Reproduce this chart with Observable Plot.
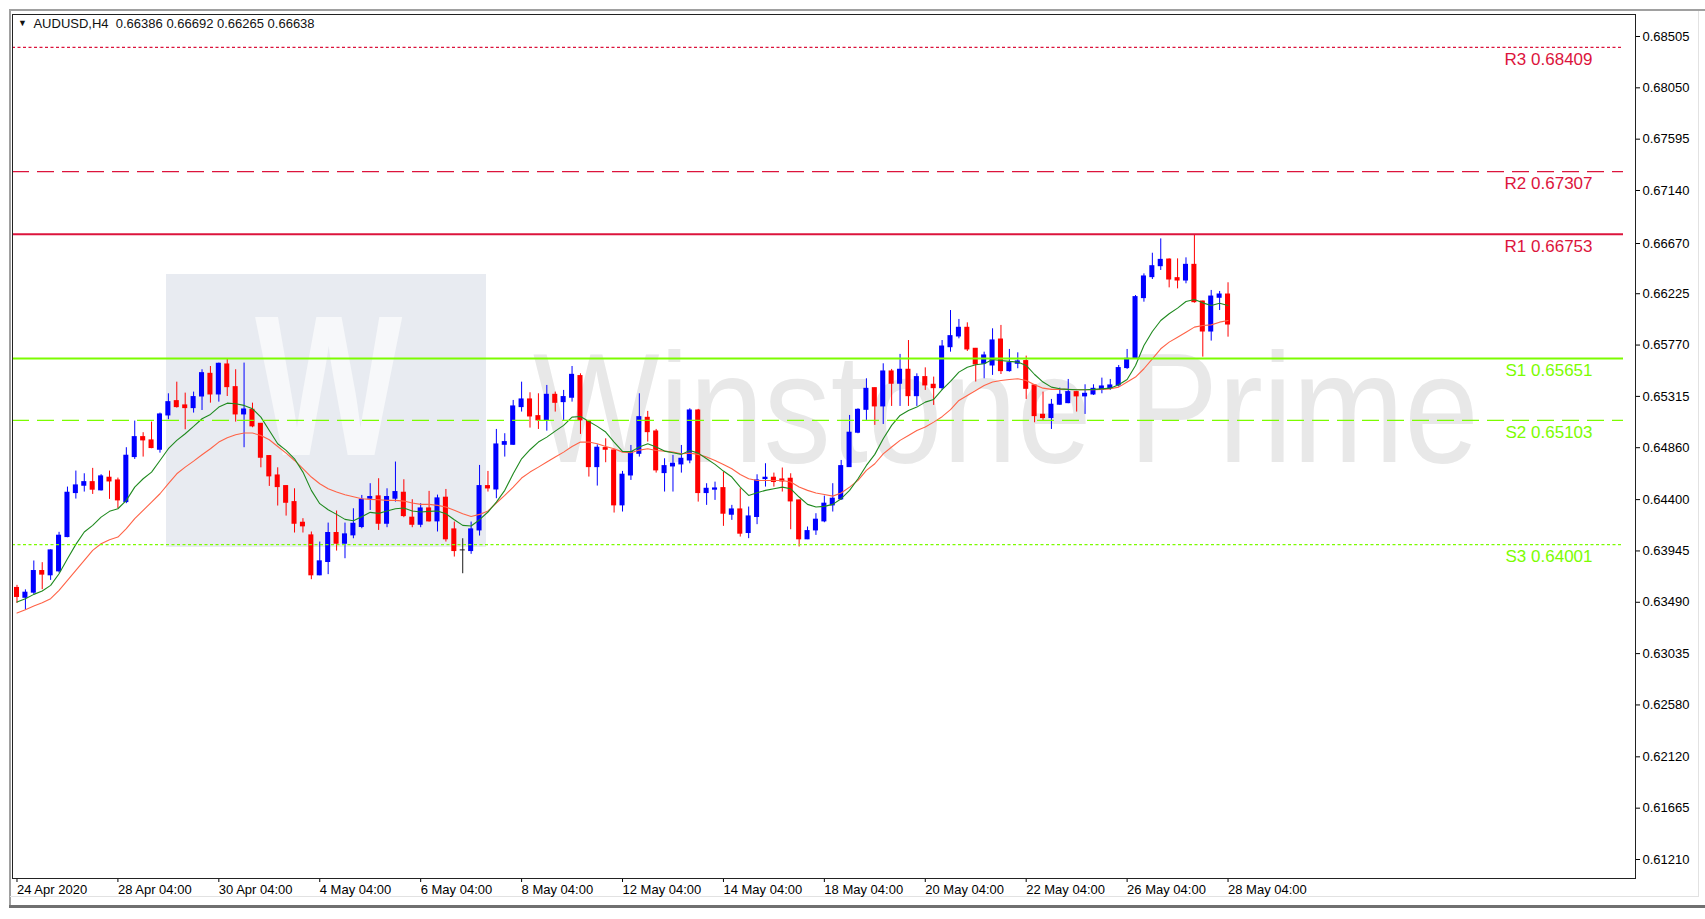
<!DOCTYPE html>
<html><head><meta charset="utf-8">
<script src="https://cdn.jsdelivr.net/npm/d3@7"></script>
<script src="https://cdn.jsdelivr.net/npm/@observablehq/plot@0.6"></script>
<style>
html,body{margin:0;padding:0;background:#fff;}
#wrap{position:relative;width:1705px;height:919px;overflow:hidden;font-family:"Liberation Sans",Arial,sans-serif;}
#wrap svg{position:absolute;left:0;top:0;}
.abs{position:absolute;}
</style></head><body>
<div id="wrap">
  <div class="abs" style="left:10px;top:9px;width:1695px;height:2px;background:#a0a0a0"></div>
  <div class="abs" style="left:9px;top:9px;width:2px;height:898px;background:#a0a0a0"></div>
  <div class="abs" style="left:10px;top:896px;width:1688px;height:1px;background:#e2e2e2"></div>
  <div class="abs" style="left:1698px;top:11px;width:1px;height:886px;background:#e2e2e2"></div>
  <div class="abs" style="left:9px;top:905px;width:1696px;height:3px;background:#707070"></div>
  <svg width="1705" height="919" style="position:absolute;left:0;top:0">
    <rect x="166" y="274" width="320" height="273" fill="#e8ebf1"></rect>
    <text transform="translate(255,455) scale(0.78,1)" font-family="'Liberation Sans',Arial,sans-serif" font-weight="bold" font-size="200" fill="#f7f8fa">W</text>
    <text transform="translate(533,462) scale(1,1.17)" font-family="'Liberation Sans',Arial,sans-serif" font-size="134" fill="#e8e8e8">Winstone Prime</text>
  </svg>
  <div id="chart"></div>
  <div class="abs" style="left:18px;top:16px;font:13px 'Liberation Sans',Arial,sans-serif;color:#111;white-space:pre"><span style="font-size:9px;position:relative;top:-2px">&#9660;</span>  AUDUSD,H4  0.66386 0.66692 0.66265 0.66638</div>
</div>
<script>
// ---- OHLC, one entry per H4 bar ----
const open = [0.63617,0.63530,0.63575,0.63767,0.63729,0.63764,0.64068,0.64458,0.64523,0.64555,
0.64482,0.64594,0.64570,0.64378,0.64777,0.64954,0.64925,0.64842,0.65146,0.65273,
0.65235,0.65211,0.65314,0.65515,0.65332,0.65598,0.65397,0.65155,0.65196,0.65072,
0.64786,0.64614,0.64520,0.64378,0.64195,0.64083,0.63729,0.63847,0.64104,0.64009,
0.64083,0.64157,0.64408,0.64429,0.64186,0.64408,0.64461,0.64240,0.64177,0.64322,
0.64207,0.64417,0.64136,0.63950,0.63944,0.64127,0.64520,0.64490,0.64886,0.64886,
0.65220,0.65288,0.65140,0.65102,0.65329,0.65264,0.65303,0.65495,0.65096,0.64688,
0.64857,0.64836,0.64349,0.64614,0.64806,0.65125,0.65004,0.64635,0.64694,0.64712,
0.64747,0.65190,0.64458,0.64488,0.64502,0.64266,0.64313,0.64104,0.64246,0.64582,
0.64594,0.64579,0.64585,0.64393,0.64048,0.64127,0.64207,0.64349,0.64402,0.64688,
0.64993,0.65196,0.65388,0.65226,0.65536,0.65427,0.65551,0.65317,0.65486,0.65418,
0.65388,0.65751,0.65846,0.65923,0.65737,0.65604,0.65589,0.65819,0.65539,0.65604,
0.65628,0.65412,0.65152,0.65123,0.65241,0.65255,0.65353,0.65315,0.65332,0.65374,
0.65382,0.65412,0.65566,0.65648,0.66186,0.66372,0.66469,0.66528,0.66363,0.66342,
0.66481,0.66156,0.65890,0.66189,0.66218];
const high = [0.63640,0.63600,0.63856,0.63841,0.63955,0.64110,0.64511,0.64653,0.64629,0.64677,
0.64621,0.64653,0.64591,0.64860,0.65096,0.64993,0.65087,0.65167,0.65338,0.65441,
0.65344,0.65353,0.65551,0.65580,0.65610,0.65642,0.65551,0.65610,0.65255,0.65075,
0.64790,0.64682,0.64523,0.64496,0.64231,0.64113,0.64024,0.64192,0.64299,0.64192,
0.64319,0.64437,0.64541,0.64585,0.64496,0.64733,0.64576,0.64399,0.64364,0.64473,
0.64440,0.64490,0.64201,0.64053,0.64201,0.64703,0.64650,0.65022,0.64984,0.65279,
0.65441,0.65347,0.65338,0.65412,0.65353,0.65368,0.65580,0.65515,0.65099,0.64886,
0.64939,0.64842,0.64650,0.64880,0.65338,0.65182,0.65022,0.64762,0.64792,0.64880,
0.65205,0.65200,0.64541,0.64555,0.64644,0.64349,0.64496,0.64334,0.64620,0.64718,
0.64635,0.64680,0.64629,0.64396,0.64157,0.64275,0.64431,0.64541,0.64747,0.65146,
0.65205,0.65471,0.65390,0.65604,0.65554,0.65687,0.65810,0.65515,0.65568,0.65486,
0.65810,0.66076,0.65997,0.65967,0.65740,0.65707,0.65914,0.65944,0.65731,0.65701,
0.65672,0.65415,0.65353,0.65288,0.65388,0.65465,0.65359,0.65418,0.65418,0.65477,
0.65465,0.65589,0.65731,0.66209,0.66401,0.66584,0.66711,0.66534,0.66534,0.66543,
0.66747,0.66159,0.66254,0.66245,0.66322];
const low = [0.63480,0.63420,0.63560,0.63602,0.63684,0.63749,0.64062,0.64405,0.64467,0.64446,
0.64476,0.64402,0.64319,0.64364,0.64756,0.64777,0.64851,0.64812,0.65108,0.65211,
0.65019,0.65167,0.65190,0.65255,0.65264,0.65314,0.65087,0.64860,0.65037,0.64682,
0.64517,0.64343,0.64254,0.64104,0.64104,0.63690,0.63725,0.63735,0.63944,0.63876,
0.64053,0.64142,0.64304,0.64127,0.64151,0.64378,0.64240,0.64151,0.64151,0.64201,
0.64113,0.64024,0.63891,0.63743,0.63915,0.64077,0.64467,0.64408,0.64777,0.64880,
0.65176,0.65034,0.65022,0.65007,0.65176,0.65102,0.65264,0.64978,0.64600,0.64520,
0.64727,0.64281,0.64290,0.64570,0.64777,0.64910,0.64635,0.64467,0.64467,0.64635,
0.64718,0.64378,0.64349,0.64393,0.64163,0.64216,0.64068,0.64054,0.64178,0.64511,
0.64511,0.64467,0.64133,0.63980,0.64045,0.64083,0.64195,0.64290,0.64393,0.64685,
0.64984,0.65102,0.65058,0.65066,0.65226,0.65226,0.65226,0.65226,0.65368,0.65235,
0.65368,0.65707,0.65825,0.65713,0.65442,0.65471,0.65501,0.65509,0.65530,0.65560,
0.65288,0.65081,0.65102,0.65022,0.65235,0.65250,0.65176,0.65155,0.65323,0.65338,
0.65368,0.65397,0.65554,0.65642,0.66150,0.66351,0.66431,0.66277,0.66268,0.66313,
0.66141,0.65663,0.65805,0.66076,0.65840];
const close = [0.63537,0.63575,0.63767,0.63735,0.63950,0.64080,0.64461,0.64526,0.64555,0.64488,
0.64606,0.64561,0.64393,0.64789,0.64954,0.64925,0.64857,0.65155,0.65264,0.65220,
0.65211,0.65309,0.65521,0.65332,0.65604,0.65397,0.65155,0.65199,0.65049,0.64771,
0.64606,0.64511,0.64372,0.64186,0.64163,0.63729,0.63853,0.64104,0.64009,0.64092,
0.64186,0.64399,0.64423,0.64186,0.64423,0.64467,0.64254,0.64177,0.64322,0.64207,
0.64411,0.64048,0.63944,0.63950,0.64136,0.64520,0.64499,0.64889,0.64910,0.65226,
0.65288,0.65137,0.65102,0.65329,0.65258,0.65309,0.65506,0.65102,0.64688,0.64860,
0.64842,0.64349,0.64621,0.64821,0.65131,0.64998,0.64659,0.64697,0.64718,0.64762,
0.65190,0.64458,0.64496,0.64499,0.64275,0.64313,0.64098,0.64251,0.64570,0.64594,
0.64556,0.64561,0.64384,0.64048,0.64121,0.64222,0.64364,0.64408,0.64697,0.64993,
0.65196,0.65382,0.65226,0.65536,0.65427,0.65551,0.65317,0.65486,0.65412,0.65388,
0.65757,0.65849,0.65923,0.65731,0.65598,0.65678,0.65811,0.65539,0.65610,0.65625,
0.65382,0.65140,0.65123,0.65241,0.65329,0.65353,0.65315,0.65338,0.65382,0.65403,
0.65412,0.65566,0.65648,0.66195,0.66378,0.66469,0.66525,0.66351,0.66342,0.66481,
0.66150,0.65890,0.66200,0.66218,0.65952];

// ---- moving averages (green = fast, orange = slow) ----
const maFast = [0.63492,0.63522,0.63560,0.63590,0.63640,0.63743,0.63876,0.64003,0.64113,0.64172,
0.64245,0.64296,0.64319,0.64393,0.64511,0.64585,0.64644,0.64747,0.64851,0.64925,
0.64984,0.65049,0.65117,0.65155,0.65220,0.65255,0.65250,0.65235,0.65205,0.65131,
0.65013,0.64895,0.64836,0.64762,0.64644,0.64482,0.64364,0.64310,0.64269,0.64225,
0.64213,0.64249,0.64287,0.64278,0.64299,0.64319,0.64325,0.64299,0.64290,0.64296,
0.64299,0.64275,0.64222,0.64172,0.64166,0.64222,0.64290,0.64378,0.64482,0.64629,
0.64762,0.64842,0.64910,0.64954,0.65007,0.65058,0.65131,0.65137,0.65093,0.65049,
0.64999,0.64910,0.64827,0.64825,0.64866,0.64895,0.64866,0.64830,0.64815,0.64801,
0.64836,0.64812,0.64762,0.64712,0.64653,0.64600,0.64511,0.64437,0.64461,0.64482,
0.64496,0.64511,0.64496,0.64423,0.64358,0.64334,0.64340,0.64358,0.64408,0.64482,
0.64585,0.64703,0.64801,0.64940,0.65058,0.65146,0.65190,0.65220,0.65264,0.65288,
0.65375,0.65449,0.65530,0.65574,0.65595,0.65604,0.65642,0.65633,0.65625,0.65619,
0.65589,0.65509,0.65442,0.65397,0.65382,0.65377,0.65374,0.65374,0.65377,0.65382,
0.65388,0.65418,0.65465,0.65589,0.65766,0.65890,0.65988,0.66047,0.66097,0.66156,
0.66174,0.66144,0.66121,0.66141,0.66121];
const maSlow = [0.63395,0.63424,0.63457,0.63486,0.63522,0.63596,0.63684,0.63773,0.63862,0.63950,
0.64009,0.64045,0.64068,0.64142,0.64231,0.64305,0.64378,0.64452,0.64541,0.64629,
0.64688,0.64741,0.64798,0.64851,0.64910,0.64948,0.64975,0.64990,0.64990,0.64969,
0.64931,0.64871,0.64812,0.64747,0.64674,0.64600,0.64541,0.64496,0.64467,0.64443,
0.64426,0.64408,0.64402,0.64399,0.64393,0.64393,0.64387,0.64370,0.64358,0.64358,
0.64349,0.64334,0.64305,0.64275,0.64251,0.64269,0.64299,0.64370,0.64437,0.64511,
0.64591,0.64644,0.64688,0.64733,0.64777,0.64821,0.64871,0.64910,0.64910,0.64895,
0.64871,0.64851,0.64821,0.64815,0.64839,0.64851,0.64836,0.64830,0.64821,0.64806,
0.64812,0.64801,0.64777,0.64747,0.64712,0.64674,0.64623,0.64585,0.64570,0.64570,
0.64570,0.64570,0.64556,0.64511,0.64482,0.64458,0.64446,0.64431,0.64458,0.64511,
0.64570,0.64659,0.64718,0.64806,0.64866,0.64925,0.64969,0.65013,0.65043,0.65087,
0.65135,0.65197,0.65279,0.65323,0.65368,0.65412,0.65442,0.65456,0.65465,0.65471,
0.65456,0.65418,0.65388,0.65377,0.65377,0.65377,0.65374,0.65374,0.65374,0.65377,
0.65382,0.65397,0.65442,0.65486,0.65560,0.65648,0.65737,0.65796,0.65840,0.65884,
0.65929,0.65944,0.65949,0.65973,0.65988];

// ---- pivot levels ----
const levelNames = ["R3","R2","R1","S1","S2","S3"];
const levelValues = [0.68409,0.67307,0.66753,0.65651,0.65103,0.64001];

// ---- axis ticks ----
const xTickBars = [0,12,24,36,48,60,72,84,96,108,120,132,144];
const xTickLabels = ["24 Apr 2020","28 Apr 04:00","30 Apr 04:00","4 May 04:00","6 May 04:00","8 May 04:00","12 May 04:00","14 May 04:00","18 May 04:00","20 May 04:00","22 May 04:00","26 May 04:00","28 May 04:00"];
const yTickLabels = ["0.68505","0.68050","0.67595","0.67140","0.66670","0.66225","0.65770","0.65315","0.64860","0.64400","0.63945","0.63490","0.63035","0.62580","0.62120","0.61665","0.61210"];

// ---- build tables ----
const UP = "#0000ff", DOWN = "#ff0000", FLAT = "#1a1a1a";
const bars = open.map((o, i) => ({
  i, o, h: high[i], l: low[i], c: close[i],
  color: close[i] > o ? UP : close[i] < o ? DOWN : FLAT
}));
const levels = levelNames.map((name, k) => ({
  name, value: levelValues[k],
  label: name + " " + levelValues[k].toFixed(5),
  color: name[0] === "R" ? "#dc143c" : "#7cfc00",
  kind: name[1] === "1" ? "solid" : name[1] === "2" ? "dash" : "dot"
}));
const yTickValues = yTickLabels.map(Number);
const xLab = new Map(xTickBars.map((b, k) => [b, xTickLabels[k]]));
const yLab = new Map(yTickValues.map((v, k) => [v, yTickLabels[k]]));
const fastPts = maFast.map((v, i) => ({i, v}));
const slowPts = maSlow.map((v, i) => ({i, v}));

const chart = Plot.plot({
  width: 1705, height: 919,
  marginTop: 14, marginLeft: 12, marginRight: 70, marginBottom: 41,
  style: {background: "transparent", fontFamily: "'Liberation Sans', Arial, sans-serif", fontSize: "13px", color: "#000", overflow: "visible"},
  x: {type: "linear", domain: [-0.535, 192.45], axis: null},
  y: {type: "linear", domain: [0.610416, 0.687], axis: null},
  marks: [
    Plot.axisX({ticks: xTickBars, tickFormat: d => xLab.get(d), label: null, tickSize: 4, tickPadding: 2, textAnchor: "start", dx: 0, fontSize: 13, fill: "#000", stroke: "#000"}),
    Plot.axisY({anchor: "right", ticks: yTickValues, tickFormat: d => yLab.get(d), label: null, tickSize: 4, tickPadding: 3, fontSize: 13, fill: "#000", stroke: "#000"}),
    // candles
    Plot.ruleX(bars, {x: "i", y1: "l", y2: "h", stroke: "color", strokeWidth: 1}),
    Plot.rect(bars, {x1: d => d.i - 0.3, x2: d => d.i + 0.3, y1: "o", y2: "c", fill: "color", insetTop: -0.5, insetBottom: -0.5}),
    // moving averages
    Plot.line(slowPts, {x: "i", y: "v", stroke: "#ff6347", strokeWidth: 1.1}),
    Plot.line(fastPts, {x: "i", y: "v", stroke: "#1f8a1f", strokeWidth: 1.1}),
    // pivot lines
    Plot.ruleY(levels.filter(d => d.kind === "solid"), {y: "value", stroke: "color", strokeWidth: 2, insetRight: 12}),
    Plot.ruleY(levels.filter(d => d.kind === "dash"), {y: "value", stroke: "color", strokeWidth: 1.2, strokeDasharray: "17,8", insetRight: 12}),
    Plot.ruleY(levels.filter(d => d.kind === "dot"), {y: "value", stroke: "color", strokeWidth: 1.2, strokeDasharray: "3,2.5", insetRight: 12}),
    Plot.text(levels, {y: "value", text: "label", fill: "color", frameAnchor: "right", textAnchor: "end", dx: -43, dy: 12, lineAnchor: "middle", fontSize: 17}),
    Plot.frame({stroke: "#222", strokeWidth: 1})
  ]
});
document.getElementById("chart").appendChild(chart);
</script>
</body></html>
